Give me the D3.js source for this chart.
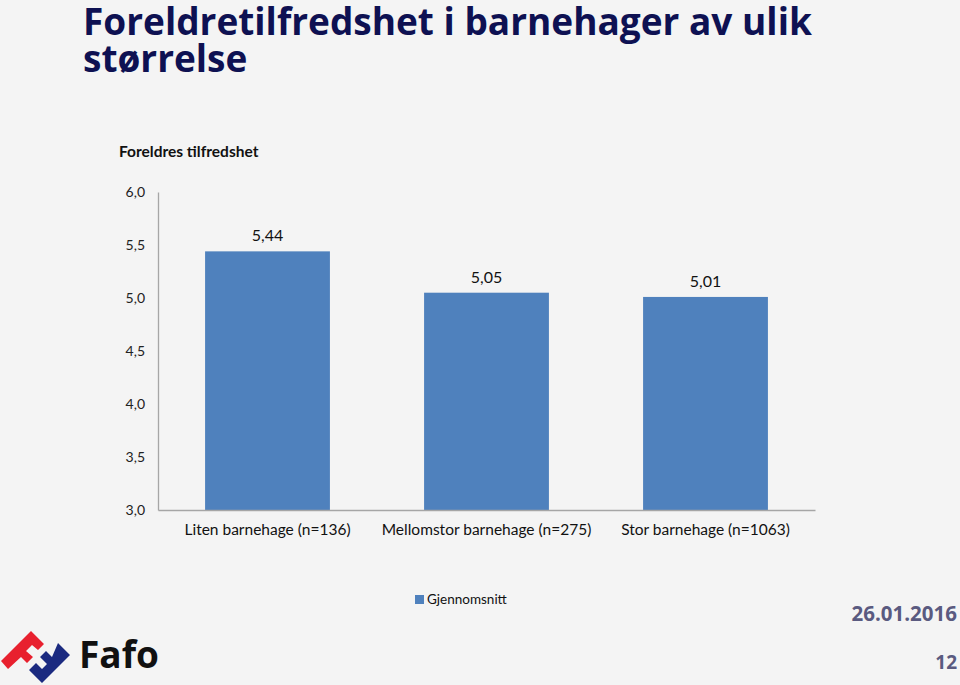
<!DOCTYPE html>
<html><head><meta charset="utf-8">
<script src="https://cdn.jsdelivr.net/npm/d3@7"></script>
<style>html,body{margin:0;padding:0;background:#f4f4f4;}svg{display:block;}</style>
</head><body>
<script>
const categories = ["Liten barnehage (n=136)", "Mellomstor barnehage (n=275)", "Stor barnehage (n=1063)"];
const values = [5.44, 5.05, 5.01];
const valueLabels = ["5,44", "5,05", "5,01"];
const yTicks = [3.0, 3.5, 4.0, 4.5, 5.0, 5.5, 6.0];
const seriesName = "Gjennomsnitt";
const titleLines = ["Foreldretilfredshet i barnehager av ulik", "størrelse"];
const subtitle = "Foreldres tilfredshet";
const dateText = "26.01.2016";
const pageNo = "12";

const W = 960, H = 685;
const svg = d3.select("body").append("svg").attr("width", W).attr("height", H);
svg.append("rect").attr("width", W).attr("height", H).attr("fill", "#f4f4f4");

const font = "'Open Sans', sans-serif";
const font2 = "Lato, 'Open Sans', sans-serif";

// Title
titleLines.forEach((l, i) => svg.append("text").attr("x", 83).attr("y", 35 + i * 37)
  .attr("font-family", font).attr("font-weight", 700).attr("font-size", 37)
  .attr("fill", "#0e1152").text(l));

svg.append("text").attr("x", 119).attr("y", 157).attr("font-family", font2).attr("font-weight", 700)
  .attr("font-size", 15.5).attr("fill", "#111").text(subtitle);

const x = d3.scaleBand().domain(categories).range([158, 815]).paddingInner(0.43).paddingOuter(0.215);
const y = d3.scaleLinear().domain([3, 6]).range([510, 192]);

svg.selectAll("rect.bar").data(values).join("rect").attr("class", "bar")
  .attr("x", (d, i) => x(categories[i])).attr("width", x.bandwidth())
  .attr("y", d => y(d)).attr("height", d => y(3) - y(d)).attr("fill", "#4f81bd");

svg.selectAll("text.val").data(values).join("text").attr("class", "val")
  .attr("x", (d, i) => x(categories[i]) + x.bandwidth() / 2).attr("y", d => y(d) - 10)
  .attr("text-anchor", "middle").attr("font-family", font2).attr("font-size", 16).attr("fill", "#111")
  .text((d, i) => valueLabels[i]);

// y axis
const ya = svg.append("g").attr("transform", "translate(158,0)")
  .call(d3.axisLeft(y).tickValues(yTicks).tickSize(0).tickPadding(13).tickFormat(d => d3.format(".1f")(d).replace(".", ",")));
ya.select(".domain").attr("stroke", "#a6a6a6").attr("stroke-width", 1.3);
ya.selectAll("text").attr("font-family", font2).attr("font-size", 14).attr("fill", "#222");

// x axis
const xa = svg.append("g").attr("transform", "translate(0,510)")
  .call(d3.axisBottom(x).tickSize(0).tickPadding(14));
xa.select(".domain").attr("stroke", "#a6a6a6").attr("stroke-width", 1.3);
xa.selectAll("text").attr("font-family", font2).attr("font-size", 15.5).attr("fill", "#111");

// legend
svg.append("rect").attr("x", 415).attr("y", 595).attr("width", 9).attr("height", 9).attr("fill", "#4f81bd");
svg.append("text").attr("x", 427).attr("y", 604).attr("font-family", font2).attr("font-size", 13.5).attr("fill", "#111").text(seriesName);

// date & page
svg.append("text").attr("x", 957).attr("y", 621).attr("text-anchor", "end").attr("font-family", font)
  .attr("font-weight", 700).attr("font-size", 20.5).attr("fill", "#5a5a80").text(dateText);
svg.append("text").attr("x", 957).attr("y", 669).attr("text-anchor", "end").attr("font-family", font)
  .attr("font-weight", 700).attr("font-size", 19).attr("fill", "#5a5a80").text(pageNo);

// Fafo logo
const red = [[1,661],[31,631],[44,644],[38,650],[32,645],[26,651],[33,657],[27,663],[21,657],[8,669]];
const blue = [[58,643],[70,655],[42,683],[29,670],[36,663],[42,669],[47,664],[40,657],[46,651],[52,657]];
svg.append("polygon").attr("points", red.map(p => p.join(",")).join(" ")).attr("fill", "#e8202e");
svg.append("polygon").attr("points", blue.map(p => p.join(",")).join(" ")).attr("fill", "#1b2a80");
svg.append("text").attr("x", 79).attr("y", 668).attr("font-family", font).attr("font-weight", 700)
  .attr("font-size", 37).attr("fill", "#111").text("Fafo");
</script>
</body></html>
